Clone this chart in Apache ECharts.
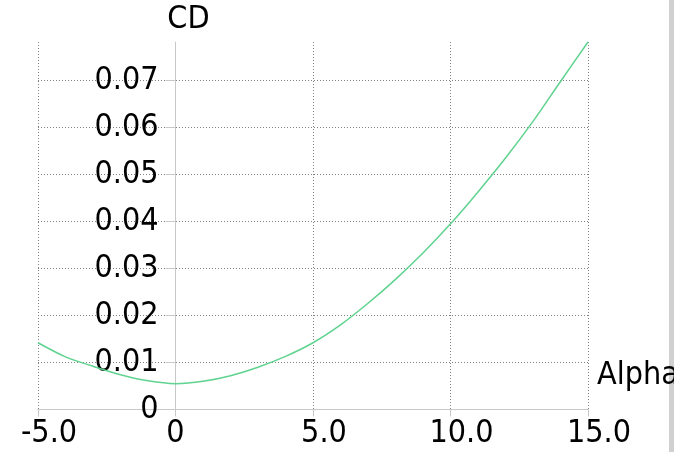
<!DOCTYPE html>
<html>
<head>
<meta charset="utf-8">
<script src="https://cdn.jsdelivr.net/npm/echarts@6/dist/echarts.min.js"></script>
<style>
html,body{margin:0;padding:0;background:#fff;}
#chart{width:674px;height:452px;}
</style>
</head>
<body>
<div id="chart"></div>
<script>
const alpha = [-5, -4, -3, -2, -1, 0, 1, 2, 3, 4, 5, 6, 7, 8, 9, 10, 11, 12, 13, 14, 15];
const cd = [0.0142, 0.0112, 0.0092, 0.0074, 0.0061, 0.0055, 0.0060, 0.0072, 0.0090, 0.0113,
            0.0142, 0.0180, 0.0226, 0.0277, 0.0333, 0.0395, 0.0463, 0.0535, 0.0613, 0.0698, 0.0782];
const xName = 'Alpha';
const yName = 'CD';

const FONT = "'DejaVu Sans Condensed', 'Liberation Sans', sans-serif";
const gridLine = { show: true, showMaxLine: false, lineStyle: { color: '#808080', width: 1, type: [1, 2] } };

const chart = echarts.init(document.getElementById('chart'), null, { renderer: 'canvas' });
chart.setOption({
  animation: false,
  backgroundColor: '#ffffff',
  grid: { left: 38, right: 86, top: 42, bottom: 42.5, containLabel: false, outerBoundsMode: 'none' },
  xAxis: {
    type: 'value', min: -5, max: 15, interval: 5,
    name: xName, nameLocation: 'end', nameGap: 9,
    nameTextStyle: { fontFamily: FONT, fontSize: 32, color: '#000', align: 'left', verticalAlign: 'bottom', padding: [0, 0, 18, 0] },
    axisLine: { show: true, onZero: false, lineStyle: { color: '#c8c8c8', width: 1 } },
    axisTick: { show: true, length: 7, lineStyle: { color: '#c8c8c8' } },
    splitLine: Object.assign({}, gridLine, { showMaxLine: true }),
    axisLabel: {
      margin: 8, fontFamily: FONT, fontSize: 32, color: '#000', showMinLabel: true, showMaxLabel: true,
      formatter: v => v === 0 ? '0' : '{s|' + v.toFixed(1) + '}',
      rich: { s: { fontFamily: FONT, fontSize: 32, color: '#000', padding: [0, 0, 0, 22] } }
    }
  },
  yAxis: {
    type: 'value', min: 0, max: 0.0782, interval: 0.01,
    offset: -137.5,
    name: yName, nameLocation: 'end', nameGap: 6,
    nameTextStyle: { fontFamily: FONT, fontSize: 32, color: '#000', padding: [0, 0, 0, 26] },
    axisLine: { show: true, onZero: false, lineStyle: { color: '#c8c8c8', width: 1 } },
    axisTick: { show: true, length: 10, lineStyle: { color: '#c8c8c8' } },
    splitLine: gridLine,
    axisLabel: {
      margin: 17, fontFamily: FONT, fontSize: 32, color: '#000', showMaxLabel: false,
      padding: [0, 0, 7, 0],
      formatter: v => v === 0 ? '0' : v.toFixed(2)
    }
  },
  graphic: [
    { type: 'rect', left: 669, top: 0, shape: { width: 5, height: 452 }, style: { fill: '#d0d0d0' }, silent: true }
  ],
  series: [{
    type: 'line',
    data: alpha.map((a, i) => [a, cd[i]]),
    showSymbol: false,
    smooth: 0.3,
    lineStyle: { color: '#5fd38f', width: 1.5 },
    clip: false
  }]
});
</script>
</body>
</html>
